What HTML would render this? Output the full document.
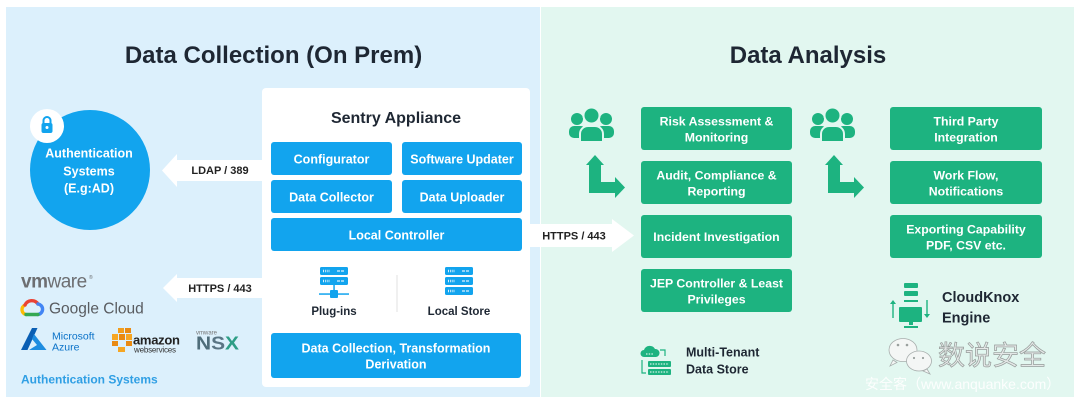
<!DOCTYPE html>
<html>
<head>
<meta charset="utf-8">
<style>
  html,body{margin:0;padding:0;background:#fff;}
  svg{display:block;}
  text{font-family:"Liberation Sans","Noto Sans CJK SC",sans-serif;}
</style>
</head>
<body>
<svg width="1080" height="403" viewBox="0 0 1080 403" xmlns="http://www.w3.org/2000/svg">
  <rect x="0" y="0" width="1080" height="403" fill="#ffffff"/>
  <!-- panels -->
  <rect x="6" y="7" width="534" height="390" fill="#dcf0fc"/>
  <rect x="541" y="7" width="533" height="390" fill="#e2f7f0"/>

  <!-- titles -->
  <text x="273.5" y="63" font-size="24" font-weight="bold" fill="#1e2733" text-anchor="middle">Data Collection (On Prem)</text>
  <text x="808" y="63" font-size="24" font-weight="bold" fill="#1e2733" text-anchor="middle">Data Analysis</text>

  <!-- Authentication circle -->
  <circle cx="90" cy="170" r="60" fill="#12a4ee"/>
  <circle cx="47" cy="126" r="17" fill="#ffffff"/>
  <path d="M43.5,124 v-3.5 a3.5,3.5 0 0 1 7,0 v3.5" fill="none" stroke="#12a4ee" stroke-width="2"/>
  <rect x="41.5" y="123" width="11" height="10" rx="2" fill="#12a4ee"/>
  <circle cx="47" cy="127.5" r="1.5" fill="#ffffff"/>
  <g font-size="12.5" font-weight="bold" fill="#ffffff" text-anchor="middle">
    <text x="89" y="157.5">Authentication</text>
    <text x="89" y="175.5">Systems</text>
    <text x="89" y="192.5">(E.g:AD)</text>
  </g>

  <!-- arrows (white) -->
  <polygon points="162,170.5 177,154 177,160 262,160 262,181 177,181 177,187" fill="#ffffff"/>
  <polygon points="163,288 177,274 177,278 262,278 262,298 177,298 177,302" fill="#ffffff"/>
  <polygon points="530,224 612,224 612,219 634,235.5 612,252 612,247 530,247" fill="#ffffff"/>
  <g font-size="11" font-weight="bold" fill="#222" text-anchor="middle">
    <text x="220" y="174">LDAP / 389</text>
    <text x="220" y="292">HTTPS / 443</text>
    <text x="574" y="239.5">HTTPS / 443</text>
  </g>

  <!-- Sentry appliance box -->
  <rect x="262" y="88" width="268" height="299" rx="4" fill="#ffffff"/>
  <text x="396" y="123" font-size="16" font-weight="bold" fill="#1e2733" text-anchor="middle">Sentry Appliance</text>
  <g fill="#12a4ee">
    <rect x="271" y="142" width="121" height="33" rx="3"/>
    <rect x="402" y="142" width="120" height="33" rx="3"/>
    <rect x="271" y="180" width="121" height="33" rx="3"/>
    <rect x="402" y="180" width="120" height="33" rx="3"/>
    <rect x="271" y="218" width="251" height="33" rx="3"/>
    <rect x="271" y="333" width="250" height="45" rx="3"/>
  </g>
  <g font-size="12.5" font-weight="bold" fill="#ffffff" text-anchor="middle">
    <text x="331.5" y="163.5">Configurator</text>
    <text x="462" y="163.5">Software Updater</text>
    <text x="331.5" y="201.5">Data Collector</text>
    <text x="462" y="201.5">Data Uploader</text>
    <text x="396.5" y="239.5">Local Controller</text>
    <text x="396" y="352.5">Data Collection, Transformation</text>
    <text x="396" y="368.5">Derivation</text>
  </g>

  <!-- plug-ins icon -->
  <g fill="#12a4ee">
    <rect x="320" y="267" width="28" height="8" rx="1.5"/>
    <rect x="320" y="277" width="28" height="8" rx="1.5"/>
    <rect x="333.3" y="285" width="1.5" height="7"/>
    <rect x="319" y="293.3" width="30" height="1.5"/>
    <rect x="330" y="290" width="8" height="8" rx="1"/>
  </g>
  <g stroke="#ffffff" stroke-width="2.5" stroke-dasharray="1,1.2" opacity="0.85">
    <line x1="323" y1="271" x2="330" y2="271"/>
    <line x1="323" y1="281" x2="330" y2="281"/>
  </g>
  <g stroke="#ffffff" stroke-width="1.2" opacity="0.85">
    <line x1="337" y1="271" x2="344" y2="271" stroke-dasharray="3,1"/>
    <line x1="337" y1="281" x2="344" y2="281" stroke-dasharray="3,1"/>
  </g>
  <!-- local store icon -->
  <g fill="#12a4ee">
    <rect x="445" y="267" width="28" height="8" rx="1.5"/>
    <rect x="445" y="277" width="28" height="8" rx="1.5"/>
    <rect x="445" y="287" width="28" height="8" rx="1.5"/>
  </g>
  <g stroke="#ffffff" stroke-width="2.5" stroke-dasharray="1,1.2" opacity="0.85">
    <line x1="448" y1="271" x2="455" y2="271"/>
    <line x1="448" y1="281" x2="455" y2="281"/>
    <line x1="448" y1="291" x2="455" y2="291"/>
  </g>
  <g stroke="#ffffff" stroke-width="1.2" opacity="0.85" stroke-dasharray="3,1">
    <line x1="462" y1="271" x2="469" y2="271"/>
    <line x1="462" y1="281" x2="469" y2="281"/>
    <line x1="462" y1="291" x2="469" y2="291"/>
  </g>
  <line x1="397" y1="275" x2="397" y2="312" stroke="#e6e6e6" stroke-width="1.2"/>
  <g font-size="11.5" font-weight="bold" fill="#1e2733" text-anchor="middle">
    <text x="334" y="315">Plug-ins</text>
    <text x="459" y="315">Local Store</text>
  </g>

  <!-- logos -->
  <text x="21" y="287.5" font-size="19" fill="#6d6e71" letter-spacing="-0.5"><tspan font-weight="bold">vm</tspan>ware</text>
  <text x="89" y="279" font-size="5" fill="#6d6e71">®</text>
  <!-- google cloud icon -->
  <g fill="none" stroke-width="3.4" stroke-linecap="round">
    <path d="M26,314.5 a5,5 0 0 1 -1,-9.5" stroke="#fbbc04"/>
    <path d="M25,305 a7.5,7.5 0 0 1 13,-1" stroke="#ea4335"/>
    <path d="M38,304 a5.3,5.3 0 0 1 0,10.5" stroke="#4285f4"/>
    <path d="M38,314.5 h-12" stroke="#34a853"/>
  </g>
  <text x="49" y="313.5" font-size="15.5" fill="#595c60">Google Cloud</text>
  <!-- azure -->
  <path d="M21,350 L32,328 L37.5,328 L27.5,350 Z" fill="#0a5fb4"/>
  <path d="M34,334 L46.5,350 L29,350 L37,345 L32,339 Z" fill="#1e8de0"/>
  <text x="52" y="339.5" font-size="10.5" fill="#0a72c8">Microsoft</text>
  <text x="52" y="350.5" font-size="10.5" fill="#0a72c8">Azure</text>
  <!-- amazon -->
  <g>
    <rect x="118" y="328" width="6" height="5" fill="#f29d1c"/>
    <rect x="125" y="328" width="6" height="5" fill="#e98a12"/>
    <rect x="112" y="334" width="6" height="6" fill="#f6a623"/>
    <rect x="119" y="334" width="6" height="6" fill="#e98a12"/>
    <rect x="126" y="334" width="6" height="6" fill="#f6a623"/>
    <rect x="112" y="341" width="6" height="5" fill="#e98a12"/>
    <rect x="126" y="341" width="6" height="5" fill="#e98a12"/>
    <rect x="118" y="347" width="7" height="5" fill="#f6a623"/>
  </g>
  <text x="133" y="344.5" font-size="13" font-weight="bold" fill="#222" letter-spacing="-0.3">amazon</text>
  <text x="134" y="352.5" font-size="8" fill="#333" letter-spacing="-0.2">webservices</text>
  <!-- NSX -->
  <text x="196" y="334.5" font-size="6" fill="#777">vmware</text>
  <text x="196" y="349.5" font-size="18" font-weight="bold" fill="#4f6d7a" textLength="43" lengthAdjust="spacingAndGlyphs">N<tspan fill="#5a7584">S</tspan><tspan fill="#2e9e86">X</tspan></text>
  <text x="21" y="383.5" font-size="12" font-weight="bold" fill="#2f9fe4">Authentication Systems</text>

  <!-- right side: people icons -->
  <g transform="translate(569,107)" fill="#1db380">
    <circle cx="8" cy="12" r="6"/>
    <rect x="0" y="19" width="17" height="12" rx="5"/>
    <circle cx="37" cy="12" r="6"/>
    <rect x="28" y="19" width="17" height="12" rx="5"/>
    <circle cx="22.5" cy="8.5" r="8" stroke="#e2f7f0" stroke-width="2"/>
    <path d="M11,35 v-8 a8,8 0 0 1 8,-8 h7 a8,8 0 0 1 8,8 v8 z" stroke="#e2f7f0" stroke-width="2"/>
  </g>
  <g transform="translate(810,107)" fill="#1db380">
    <circle cx="8" cy="12" r="6"/>
    <rect x="0" y="19" width="17" height="12" rx="5"/>
    <circle cx="37" cy="12" r="6"/>
    <rect x="28" y="19" width="17" height="12" rx="5"/>
    <circle cx="22.5" cy="8.5" r="8" stroke="#e2f7f0" stroke-width="2"/>
    <path d="M11,35 v-8 a8,8 0 0 1 8,-8 h7 a8,8 0 0 1 8,8 v8 z" stroke="#e2f7f0" stroke-width="2"/>
  </g>
  <!-- L arrows -->
  <g transform="translate(586,155)" fill="#1db380">
    <polygon points="0,10 9,0 18,10"/>
    <rect x="3" y="9" width="12" height="29"/>
    <rect x="3" y="27" width="27" height="11"/>
    <polygon points="29,22 39,32.5 29,43"/>
  </g>
  <g transform="translate(825,155)" fill="#1db380">
    <polygon points="0,10 9,0 18,10"/>
    <rect x="3" y="9" width="12" height="29"/>
    <rect x="3" y="27" width="27" height="11"/>
    <polygon points="29,22 39,32.5 29,43"/>
  </g>

  <!-- green boxes -->
  <g fill="#1db380">
    <rect x="641" y="107" width="151" height="43" rx="3"/>
    <rect x="641" y="161" width="151" height="43" rx="3"/>
    <rect x="641" y="215" width="151" height="43" rx="3"/>
    <rect x="641" y="269" width="151" height="43" rx="3"/>
    <rect x="890" y="107" width="152" height="43" rx="3"/>
    <rect x="890" y="161" width="152" height="43" rx="3"/>
    <rect x="890" y="215" width="152" height="43" rx="3"/>
  </g>
  <g font-size="12.3" font-weight="bold" fill="#ffffff" text-anchor="middle">
    <text x="716.5" y="125.5">Risk Assessment &amp;</text>
    <text x="716.5" y="141.5">Monitoring</text>
    <text x="716.5" y="179.5">Audit, Compliance &amp;</text>
    <text x="716.5" y="195.5">Reporting</text>
    <text x="716.5" y="241">Incident Investigation</text>
    <text x="716.5" y="287.5">JEP Controller &amp; Least</text>
    <text x="716.5" y="303.5">Privileges</text>
    <text x="966" y="125.5">Third Party</text>
    <text x="966" y="141.5">Integration</text>
    <text x="966" y="179.5">Work Flow,</text>
    <text x="966" y="195.5">Notifications</text>
    <text x="966" y="233.5">Exporting Capability</text>
    <text x="966" y="249.5">PDF, CSV etc.</text>
  </g>

  <!-- multi-tenant icon -->
  <g fill="#1db380">
    <path d="M644,357 a3.5,3.5 0 0 1 0,-7 a6,6 0 0 1 11,-1 a4,4 0 0 1 1,8 z"/>
    <rect x="648" y="361" width="23" height="6" rx="1"/>
    <rect x="648" y="369" width="23" height="6" rx="1"/>
  </g>
  <g fill="none" stroke="#1db380" stroke-width="1.2">
    <path d="M660,350 h5 v6"/>
    <path d="M642,360 v13 h4"/>
  </g>
  <g stroke="#ffffff" stroke-width="1" stroke-dasharray="1.5,1.2">
    <line x1="646" y1="354" x2="654" y2="354"/>
    <line x1="650" y1="364" x2="669" y2="364"/>
    <line x1="650" y1="372" x2="669" y2="372"/>
  </g>
  <text x="686" y="356.5" font-size="12.5" font-weight="bold" fill="#1e2733">Multi-Tenant</text>
  <text x="686" y="373.5" font-size="12.5" font-weight="bold" fill="#1e2733">Data Store</text>

  <!-- cloudknox icon -->
  <g fill="#1db380">
    <rect x="904" y="283" width="14" height="5" rx="1"/>
    <rect x="904" y="291" width="14" height="5" rx="1"/>
    <rect x="904" y="300" width="14" height="2"/>
    <rect x="899" y="307" width="23" height="15" rx="1"/>
    <rect x="909" y="322" width="4" height="3"/>
    <rect x="904" y="326" width="14" height="2"/>
    <polygon points="890,304 893,300 896,304"/>
    <rect x="892.3" y="303" width="1.4" height="15"/>
    <polygon points="924,314 927,318 930,314"/>
    <rect x="926.3" y="300" width="1.4" height="15"/>
  </g>
  <text x="942" y="302" font-size="14.5" font-weight="bold" fill="#1e2733">CloudKnox</text>
  <text x="942" y="322.5" font-size="14.5" font-weight="bold" fill="#1e2733">Engine</text>

  <!-- watermark -->
  <g fill="#f4f6f5" stroke="#a8aead" stroke-width="0.8">
    <ellipse cx="903" cy="350" rx="14" ry="11.5"/>
    <path d="M893,360 l-3,6 l7,-3.5 z"/>
    <ellipse cx="919" cy="361" rx="12.5" ry="10"/>
    <path d="M927,369 l3,5 l-7,-3 z"/>
  </g>
  <g fill="#9aa09e">
    <circle cx="898" cy="345" r="1.3"/>
    <circle cx="907" cy="345" r="1.3"/>
    <circle cx="914" cy="358" r="1.1"/>
    <circle cx="923" cy="358" r="1.1"/>
  </g>
  <text x="938" y="365" font-size="27" fill="#e4e8e7" stroke="#959b99" stroke-width="0.7" style="font-family:'Noto Sans CJK SC','WenQuanYi Zen Hei',sans-serif;">数说安全</text>
  <text x="865" y="389" font-size="14" fill="#ffffff" opacity="0.92" style="font-family:'Liberation Sans','Noto Sans CJK SC',sans-serif;">安全客（www.anquanke.com）</text>
</svg>
</body>
</html>
